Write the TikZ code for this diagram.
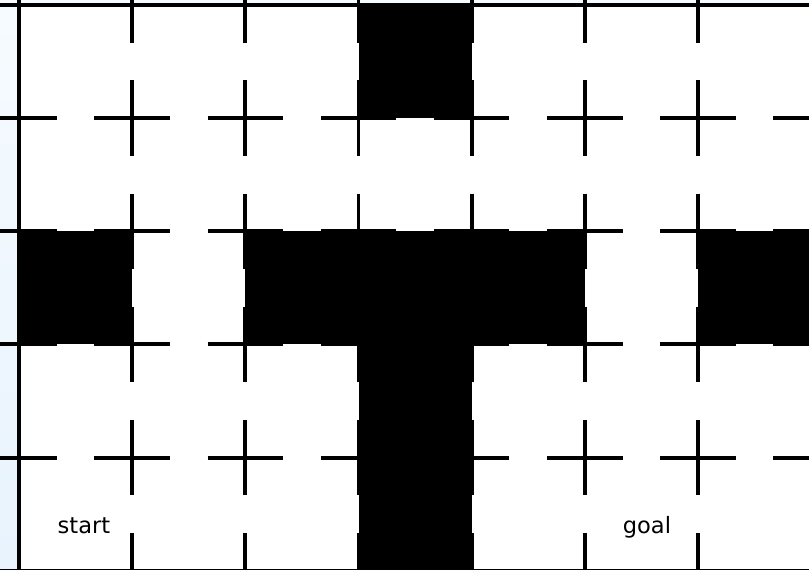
\documentclass[tikz,border=0pt]{standalone}
\usepackage{fontspec}
\setsansfont{DejaVu Sans}
\definecolor{bgtop}{RGB}{246,251,255}
\definecolor{bgbot}{RGB}{232,243,253}

\begin{document}
\begin{tikzpicture}[
    x=3cm, y=-3cm,
    wall/.style={line width=3pt, draw=black},
    blocked/.style={fill=black},
    lbl/.style={font=\sffamily\fontsize{17}{20}\selectfont, anchor=base},
]
    \useasboundingbox (-0.168,-0.044) rectangle (6.981,4.993);
    \clip (-0.168,-0.044) rectangle (6.981,4.993);

    %==================== BACKGROUND ====================
    \shade[top color=bgtop, bottom color=bgbot] (-0.168,-0.044) rectangle (6.981,4.993);
    \fill[white] (0,0) rectangle (7,5);

    %==================== BLOCKED CELLS ====================
    \foreach \c/\r in {3/0, 0/2, 2/2, 3/2, 4/2, 6/2, 3/3, 3/4}
        \fill[blocked] (\c,\r) rectangle ++(1,1);

    %==================== WALLS ====================
    \foreach \i in {0,...,7}
      \foreach \j in {0,...,5} {
        \draw[wall] (\i-1/3,\j) -- (\i+1/3,\j);
        \draw[wall] (\i,\j-1/3) -- (\i,\j+1/3);
      }
    \draw[wall] (0,0) rectangle (7,5);

    %==================== LABELS ====================
    \node[lbl] (start) at (0.574,4.674) {start};
    \node[lbl] (goal) at (5.549,4.674) {goal};
\end{tikzpicture}
\end{document}
